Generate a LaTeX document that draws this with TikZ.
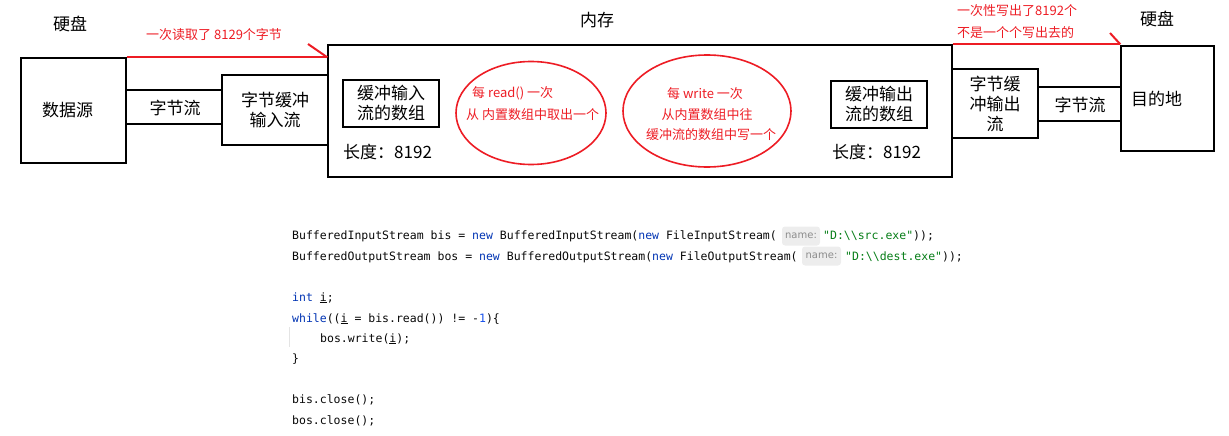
\documentclass[tikz,border=0pt]{standalone}
\usepackage{fontspec}
\setmainfont{Noto Sans CJK SC}
\newfontfamily\codefont{DejaVu Sans Mono}
\newfontfamily\hintfont{DejaVu Sans}
\usetikzlibrary{shapes.geometric,calc}
\definecolor{pred}{RGB}{237,28,36}
\definecolor{kwblue}{HTML}{0033B3}
\definecolor{numblue}{HTML}{1750EB}
\definecolor{strgreen}{HTML}{067D17}
\definecolor{codeblack}{HTML}{080808}
\definecolor{hintgray}{HTML}{8C8C8C}
\definecolor{hintbg}{HTML}{EDEDED}
\definecolor{guidegray}{HTML}{E4E4E4}
\newcommand*\fbigsz{\fontsize{17}{20}\selectfont}
\newcommand*\fredsz{\fontsize{13}{22}\selectfont}
\newcommand*\kw[1]{\textcolor{kwblue}{#1}}
\begin{document}
\begin{tikzpicture}[x=1pt,y=-1pt,
  box/.style={draw=black, line width=1.3pt, inner sep=0pt, align=center, font=\fbigsz},
  lbl/.style={font=\fbigsz, inner sep=0pt},
  rtxt/.style={text=pred, font=\fredsz, inner sep=0pt},
  redline/.style={draw=pred, line width=2pt},
  conn/.style={draw=black, line width=1.3pt},
  oval/.style={ellipse, draw=pred, line width=1.6pt, inner sep=0pt},
  code/.style={font=\codefont\fontsize{11.5}{14}\selectfont, text=codeblack, inner sep=0pt, anchor=base west},
  hint/.style={fill=hintbg, rounded corners=3pt, inner sep=0pt, text=hintgray, font=\hintfont\fontsize{10}{12}\selectfont},
  guide/.style={draw=guidegray, line width=1pt}]
\useasboundingbox (0,0) rectangle (1229,436);

% titles
\node[lbl] (hd1) at (70,24) {硬盘};
\node[lbl] (mt) at (597,20) {内存};
\node[lbl] (hd2) at (1157,19) {硬盘};

% boxes
\node[box, minimum width=624, minimum height=132] (mem) at (640,111) {};
\node[box, minimum height=105, text width=63, inner xsep=21, align=left] (src) at (73.5,110.5) {数据源};
\node[box, minimum width=106, minimum height=70] (inbuf) at (275,110) {字节缓冲\\输入流};
\node[box, minimum width=96, minimum height=47] (inarr) at (391,103.5) {缓冲输入\\流的数组};
\node[box, minimum width=96, minimum height=47] (outarr) at (879,104.5) {缓冲输出\\流的数组};
\node[box, minimum width=86, minimum height=69] (outbuf) at (995,103.5) {字节缓\\冲输出\\流};
\node[box, minimum height=105, text width=73, inner xsep=10, align=left] (dest) at (1167.5,98.5) {目的地};

\node[lbl, anchor=west] (len1) at (343,152) {长度：8192};
\node[lbl, anchor=west] (len2) at (832,152) {长度：8192};

% byte streams
\coordinate (ly1) at (0,90);
\coordinate (ly2) at (0,124);
\draw[conn] (src.east |- ly1) -- (inbuf.west |- ly1);
\draw[conn] (src.east |- ly2) -- (inbuf.west |- ly2);
\node[lbl] (bs1) at (175,107.5) {字节流};
\coordinate (ry1) at (0,87);
\coordinate (ry2) at (0,121);
\draw[conn] (outbuf.east |- ry1) -- (dest.west |- ry1);
\draw[conn] (outbuf.east |- ry2) -- (dest.west |- ry2);
\node[lbl] (bs2) at (1080,104.5) {字节流};

% ellipses
\node[oval, minimum width=150, minimum height=103] (e1) at (531,113) {};
\node[rtxt, anchor=west] (e1a) at (472,93) {每 read() 一次};
\node[rtxt, anchor=west] (e1b) at (466,115) {从 内置数组中取出一个};
\node[oval, minimum width=168, minimum height=112] (e2) at (707,111) {};
\node[rtxt] (e2a) at (705,94) {每 write 一次};
\node[rtxt] (e2b) at (707,114.5) {从内置数组中往};
\node[rtxt] (e2c) at (711,135) {缓冲流的数组中写一个};

% red annotations
\coordinate (ra) at (308,44);
\draw[redline] (src.north east) -- (mem.west |- src.north east);
\draw[redline] (ra) -- (mem.west |- src.north east);
\node[rtxt, anchor=west] (rl) at (146,35) {一次读取了 8129个字节};
\coordinate (rb) at (1110,33);
\draw[redline] (mem.north east) -- (dest.west |- mem.north east);
\draw[redline] (rb) -- (dest.west |- mem.north east);
\node[rtxt, anchor=west] (rr1) at (957,10.5) {一次性写出了8192个};
\node[rtxt, anchor=west] (rr2) at (957,33) {不是一个个写出去的};

% code
\node[code] (c1) at (292,239) {BufferedInputStream bis = \kw{new} BufferedInputStream(\kw{new} FileInputStream(};
\node[hint, minimum width=38, minimum height=19] (h1) at (801,236) {name:};
\node[code] (s1) at (823,239) {\textcolor{strgreen}{"D:\textbackslash\textbackslash src.exe"}));};
\node[code] (c2) at (292,260) {BufferedOutputStream bos = \kw{new} BufferedOutputStream(\kw{new} FileOutputStream(};
\node[hint, minimum width=39, minimum height=19] (h2) at (821.5,256) {name:};
\node[code] (s2) at (845,260) {\textcolor{strgreen}{"D:\textbackslash\textbackslash dest.exe"}));};
\node[code] (c3) at (292,301) {\kw{int} \underline{i};};
\node[code] (c4) at (292,322) {\kw{while}((\underline{i} = bis.read()) != -\textcolor{numblue}{1})\{};
\node[code] (c5) at (320,342) {bos.write(\underline{i});};
\node[code] (c6) at (292,362) {\}};
\node[code] (c7) at (292,403) {bis.close();};
\node[code] (c8) at (292,424) {bos.close();};
\draw[guide] (289,327) -- (289,347);
\end{tikzpicture}
\end{document}
